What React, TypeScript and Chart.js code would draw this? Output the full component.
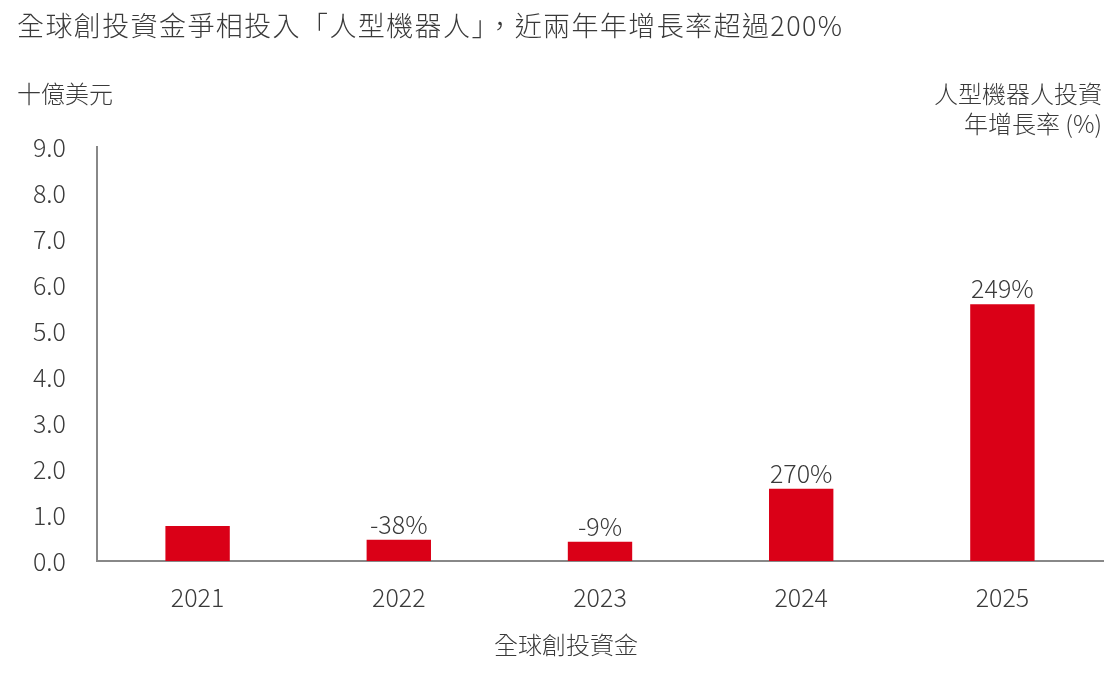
import React, { useEffect, useRef } from 'react'
import { Chart, registerables } from 'chart.js'

Chart.register(...registerables)

const years = ['2021', '2022', '2023', '2024', '2025']
const funding = [0.76, 0.46, 0.42, 1.57, 5.58]
const growth = ['', '-38%', '-9%', '270%', '249%']

const title = '全球創投資金爭相投入「人型機器人」，近兩年年增長率超過200%'
const yUnit = '十億美元'
const growthNote = ['人型機器人投資', '年增長率 (%)']
const xTitle = '全球創投資金'

const FONT = '"Noto Sans CJK TC", "Noto Sans", sans-serif'
const TEXT = '#3a3a3a'

const textPlugin = {
  id: 'texts',
  afterDraw(chart: any) {
    const ctx = chart.ctx
    ctx.save()
    ctx.fillStyle = TEXT
    ctx.textBaseline = 'middle'

    ctx.font = `300 27px ${FONT}`
    ctx.textAlign = 'left'
    ctx.letterSpacing = '1.4px'
    ctx.fillText(title, 17, 26)
    ctx.letterSpacing = '0px'

    ctx.font = `300 24px ${FONT}`
    ctx.fillText(yUnit, 17, 94)

    ctx.textAlign = 'right'
    ctx.fillText(growthNote[0], 1102, 94)
    ctx.fillText(growthNote[1], 1102, 124)

    ctx.textAlign = 'center'
    ctx.fillText(xTitle, 566, 645)

    // growth labels above bars
    ctx.font = `300 25px ${FONT}`
    ctx.textBaseline = 'bottom'
    const meta = chart.getDatasetMeta(0)
    meta.data.forEach((bar: any, i: number) => {
      if (growth[i]) ctx.fillText(growth[i], bar.x, bar.y - 3)
    })
    ctx.restore()
  },
}

function App() {
  const ref = useRef<HTMLCanvasElement>(null)

  useEffect(() => {
    document.body.style.margin = '0'
    const ctx = ref.current
    if (!ctx) return

    const chart = new Chart(ctx, {
      type: 'bar',
      data: {
        labels: years,
        datasets: [
          {
            data: funding,
            backgroundColor: '#DA0017',
            barPercentage: 0.32,
            categoryPercentage: 1,
          },
        ],
      },
      options: {
        animation: false,
        responsive: false,
        layout: { padding: { top: 147, right: 15, left: 0, bottom: 0 } },
        plugins: {
          legend: { display: false },
          tooltip: { enabled: false },
        },
        scales: {
          x: {
            grid: { display: false, drawTicks: false },
            border: { display: true, color: '#888', width: 2 },
            ticks: {
              color: TEXT,
              font: { family: FONT, size: 25, weight: 300 },
              padding: 21,
            },
            afterFit(scale: any) {
              scale.height = 115
            },
          },
          y: {
            min: 0,
            max: 9,
            grid: { display: false, drawTicks: false },
            border: { display: true, color: '#888', width: 2 },
            ticks: {
              stepSize: 1,
              color: TEXT,
              font: { family: FONT, size: 25, weight: 300 },
              padding: 31,
              callback: (v: any) => Number(v).toFixed(1),
            },
            afterFit(scale: any) {
              scale.width = 97
            },
          },
        },
      },
      plugins: [textPlugin],
    })

    return () => {
      chart.destroy()
    }
  }, [])

  return (
    <div>
      <canvas ref={ref} width={1118} height={676}></canvas>
    </div>
  )
}

export default App
